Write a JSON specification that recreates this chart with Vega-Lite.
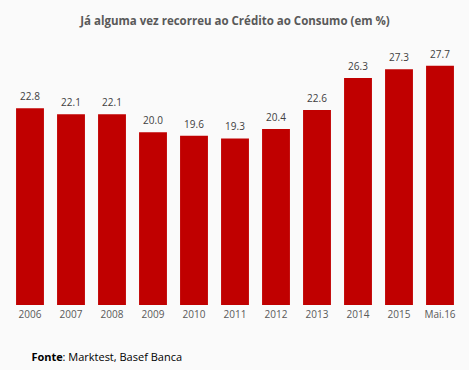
{
  "$schema": "https://vega.github.io/schema/vega-lite/v6.json",
  "width": 451,
  "height": 259,
  "autosize": "none",
  "padding": {"left": 9.5, "top": 46, "right": 8.5, "bottom": 65},
  "background": "#fafafa",
  "title": {
    "text": "Já alguma vez recorreu ao Crédito ao Consumo (em %)",
    "font": "Open Sans",
    "fontSize": 11.5,
    "fontWeight": "bold",
    "color": "#595959",
    "anchor": "middle",
    "offset": 19
  },
  "data": {
    "values": [
      {"ano": "2006", "valor": 22.8},
      {"ano": "2007", "valor": 22.1},
      {"ano": "2008", "valor": 22.1},
      {"ano": "2009", "valor": 20.0},
      {"ano": "2010", "valor": 19.6},
      {"ano": "2011", "valor": 19.3},
      {"ano": "2012", "valor": 20.4},
      {"ano": "2013", "valor": 22.6},
      {"ano": "2014", "valor": 26.3},
      {"ano": "2015", "valor": 27.3},
      {"ano": "Mai.16", "valor": 27.7}
    ]
  },
  "encoding": {
    "x": {
      "field": "ano",
      "type": "nominal",
      "sort": null,
      "scale": {"paddingInner": 0.32, "paddingOuter": 0.16},
      "axis": {
        "title": "Fonte",
        "titleFont": "Open Sans",
        "titleFontSize": 11,
        "titleFontWeight": "bold",
        "titleColor": "#000000",
        "titleX": 21.5,
        "titleY": 52,
        "titleAlign": "left",
        "titleBaseline": "middle",
        "labelAngle": 0,
        "labelFont": "Open Sans",
        "labelFontSize": 10,
        "labelColor": "#595959",
        "labelPadding": 4,
        "ticks": false,
        "domain": false
      }
    },
    "y": {
      "field": "valor",
      "type": "quantitative",
      "scale": {"domain": [0, 30]},
      "axis": {
        "title": ": Marktest, Basef Banca",
        "titleFont": "Open Sans",
        "titleFontSize": 11,
        "titleFontWeight": "normal",
        "titleColor": "#000000",
        "titleAngle": 0,
        "titleX": 52.5,
        "titleY": 311,
        "titleAlign": "left",
        "titleBaseline": "middle",
        "labels": false,
        "ticks": false,
        "domain": false,
        "grid": false
      }
    }
  },
  "layer": [
    {"mark": {"type": "bar", "color": "#c00000"}},
    {
      "mark": {
        "type": "text",
        "dy": -11,
        "font": "Open Sans",
        "fontSize": 10,
        "color": "#404040"
      },
      "encoding": {"text": {"field": "valor", "type": "quantitative", "format": ".1f"}}
    }
  ],
  "config": {"view": {"stroke": null}}
}
